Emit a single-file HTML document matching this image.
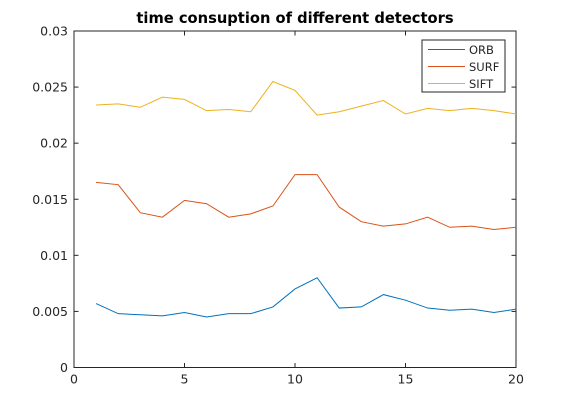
<!DOCTYPE html>
<html><head><meta charset="utf-8"><style>
html,body{margin:0;padding:0;background:#fff;}
svg{display:block;font-family:"DejaVu Sans","Liberation Sans",sans-serif;}
</style></head><body>
<svg id="chart" width="570" height="413">
<rect x="0" y="0" width="570" height="413" fill="#fff"/>
<text x="295" y="23" text-anchor="middle" font-size="14.7" font-weight="bold" fill="#000">time consuption of different detectors</text>
<g id="axes"></g>
<g id="series"></g>
<g>
<rect x="422" y="40" width="83" height="52" fill="#fff" stroke="#262626" stroke-width="1"/>
<line x1="428" y1="49.5" x2="465" y2="49.5" stroke="#0072BD"/>
<text x="469" y="54" font-size="11.5" fill="#262626">ORB</text>
<line x1="428" y1="66.5" x2="465" y2="66.5" stroke="#D95319"/>
<text x="469" y="71" font-size="11.5" fill="#262626">SURF</text>
<line x1="428" y1="83.5" x2="465" y2="83.5" stroke="#EDB120"/>
<text x="469" y="88" font-size="11.5" fill="#262626">SIFT</text>
</g>
</svg>
<script>
const xs = [1,2,3,4,5,6,7,8,9,10,11,12,13,14,15,16,17,18,19,20];
const orb = [0.0057,0.0048,0.0047,0.0046,0.0049,0.0045,0.0048,0.0048,0.0054,0.0070,0.0080,0.0053,0.0054,0.0065,0.0060,0.0053,0.0051,0.0052,0.0049,0.0052];
const surf = [0.0165,0.0163,0.0138,0.0134,0.0149,0.0146,0.0134,0.0137,0.0144,0.0172,0.0172,0.0143,0.0130,0.0126,0.0128,0.0134,0.0125,0.0126,0.0123,0.0125];
const sift = [0.0234,0.0235,0.0232,0.0241,0.0239,0.0229,0.0230,0.0228,0.0255,0.0247,0.0225,0.0228,0.0233,0.0238,0.0226,0.0231,0.0229,0.0231,0.0229,0.0226];
const xTicks = [0,5,10,15,20];
const yTicks = [0,0.005,0.01,0.015,0.02,0.025,0.03];
const yLabels = ["0","0.005","0.01","0.015","0.02","0.025","0.03"];

const L=74,R=516,T=31,B=367.5;
const sx=v=>L+(v-0)/(20-0)*(R-L);
const sy=v=>B-(v-0)/(0.03-0)*(B-T);
const NS="http://www.w3.org/2000/svg";
const axes=document.getElementById('axes');
function mk(tag,attrs,parent){const e=document.createElementNS(NS,tag);for(const k in attrs)e.setAttribute(k,attrs[k]);parent.appendChild(e);return e;}
const frame=mk('rect',{x:L,y:T,width:R-L,height:B-T,fill:'none',stroke:'#262626','stroke-width':1},axes);


xTicks.forEach(t=>{
  const x=sx(t);
  const l1=mk('line',{x1:x,y1:B,x2:x,y2:B-4.5,stroke:'#262626'},axes);
  
  
  const l2=mk('line',{x1:x,y1:T,x2:x,y2:T+4.5,stroke:'#262626'},axes);
  
  
  const tx=mk('text',{x:x,y:B+16,'text-anchor':'middle','font-size':12.5,fill:'#262626'},axes);
  tx.textContent=t;
  
  
});
yTicks.forEach((t,i)=>{
  const y=sy(t);
  const l1=mk('line',{x1:L,y1:y,x2:L+4.5,y2:y,stroke:'#262626'},axes);
  
  
  const l2=mk('line',{x1:R,y1:y,x2:R-4.5,y2:y,stroke:'#262626'},axes);
  
  
  const tx=mk('text',{x:L-6,y:y+4.5,'text-anchor':'end','font-size':12.5,fill:'#262626'},axes);
  tx.textContent=yLabels[i];
  
  
});
const sg=document.getElementById('series');
[[orb,'#0072BD','line-orb'],[surf,'#D95319','line-surf'],[sift,'#EDB120','line-sift']].forEach(([d,c,n])=>{
  const p=mk('polyline',{points:d.map((v,i)=>sx(xs[i])+','+sy(v)).join(' '),fill:'none',stroke:c,'stroke-width':1},sg);
  
  
});
</script>
</body></html>
